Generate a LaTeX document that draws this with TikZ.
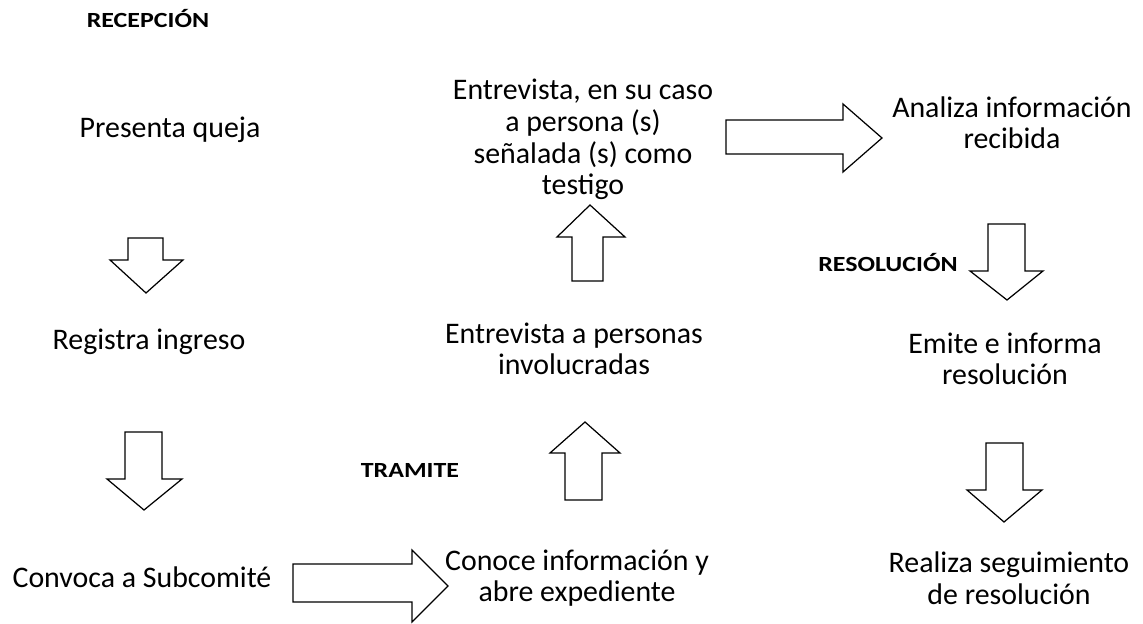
\documentclass[tikz,border=0pt]{standalone}
\usepackage{fontspec}
\usepackage{graphicx}
\setmainfont{Carlito}
\newcommand\secttl[1]{\scalebox{1.2}[1]{\fontsize{12.3}{14}\selectfont\bfseries #1}}
\begin{document}
\begin{tikzpicture}[x=0.02cm,y=-0.02cm,
  txt/.style={inner sep=0pt,anchor=base,align=center,font=\fontsize{17}{18.2}\selectfont},
  ttl/.style={inner sep=0pt,anchor=base},
  blk/.style={draw=black,line width=0.7pt,line join=miter,fill=none}]
\useasboundingbox (0,0) rectangle (1143,624);
% section titles
\node[ttl] (recep) at (148,28) {\secttl{RECEPCIÓN}};
\node[ttl,anchor=base east] (resol) at (958,272) {\secttl{RESOLUCIÓN}};
\node[ttl] (tram) at (410,478) {\secttl{TRAMITE}};
% steps (anchor base = baseline of the last line)
\node[txt] (queja) at (170,138) {Presenta queja};
\node[txt] (regis) at (149,350) {Registra ingreso};
\node[txt] (convo) at (142,588) {Convoca a Subcomité};
\node[txt] (conoce) at (577,602) {Conoce información y\\abre expediente};
\node[txt] (entinv) at (574,375) {Entrevista a personas\\involucradas};
\node[txt] (enttes) at (583,195) {Entrevista, en su caso\\a persona (s)\\señalada (s) como\\testigo};
\node[txt] (anal) at (1012,149) {Analiza información\\recibida};
\node[txt] (emite) at (1005,385) {Emite e informa\\resolución};
\node[txt] (segui) at (1009,604) {Realiza seguimiento\\de resolución};
% block arrows
% down: Presenta -> Registra
\draw[blk] (128,238) -- (163,238) -- (163,260) -- (183,260) -- (146,293) -- (110,260) -- (128,260) -- cycle;
% down: Registra -> Convoca
\draw[blk] (125,432) -- (162,432) -- (162,479) -- (182,479) -- (144,510) -- (107,479) -- (125,479) -- cycle;
% right: Convoca -> Conoce
\draw[blk] (293,564) -- (412,564) -- (412,550) -- (448,586) -- (412,622) -- (412,602) -- (293,602) -- cycle;
% up: Conoce -> Entrevista personas
\draw[blk] (565,500) -- (602,500) -- (602,453) -- (620,453) -- (585,422) -- (550,453) -- (565,453) -- cycle;
% up: Entrevista personas -> Entrevista testigo
\draw[blk] (572,281) -- (603,281) -- (603,237) -- (625,237) -- (590,205) -- (557,237) -- (572,237) -- cycle;
% right: Entrevista testigo -> Analiza
\draw[blk] (726,120) -- (843,120) -- (843,104) -- (882,138) -- (843,172) -- (843,154) -- (726,154) -- cycle;
% down: Analiza -> Emite
\draw[blk] (988,224) -- (1025,224) -- (1025,271) -- (1043,271) -- (1007,300) -- (970,271) -- (988,271) -- cycle;
% down: Emite -> Realiza
\draw[blk] (986,443) -- (1023,443) -- (1023,490) -- (1042,490) -- (1004,522) -- (967,490) -- (986,490) -- cycle;
\end{tikzpicture}
\end{document}
